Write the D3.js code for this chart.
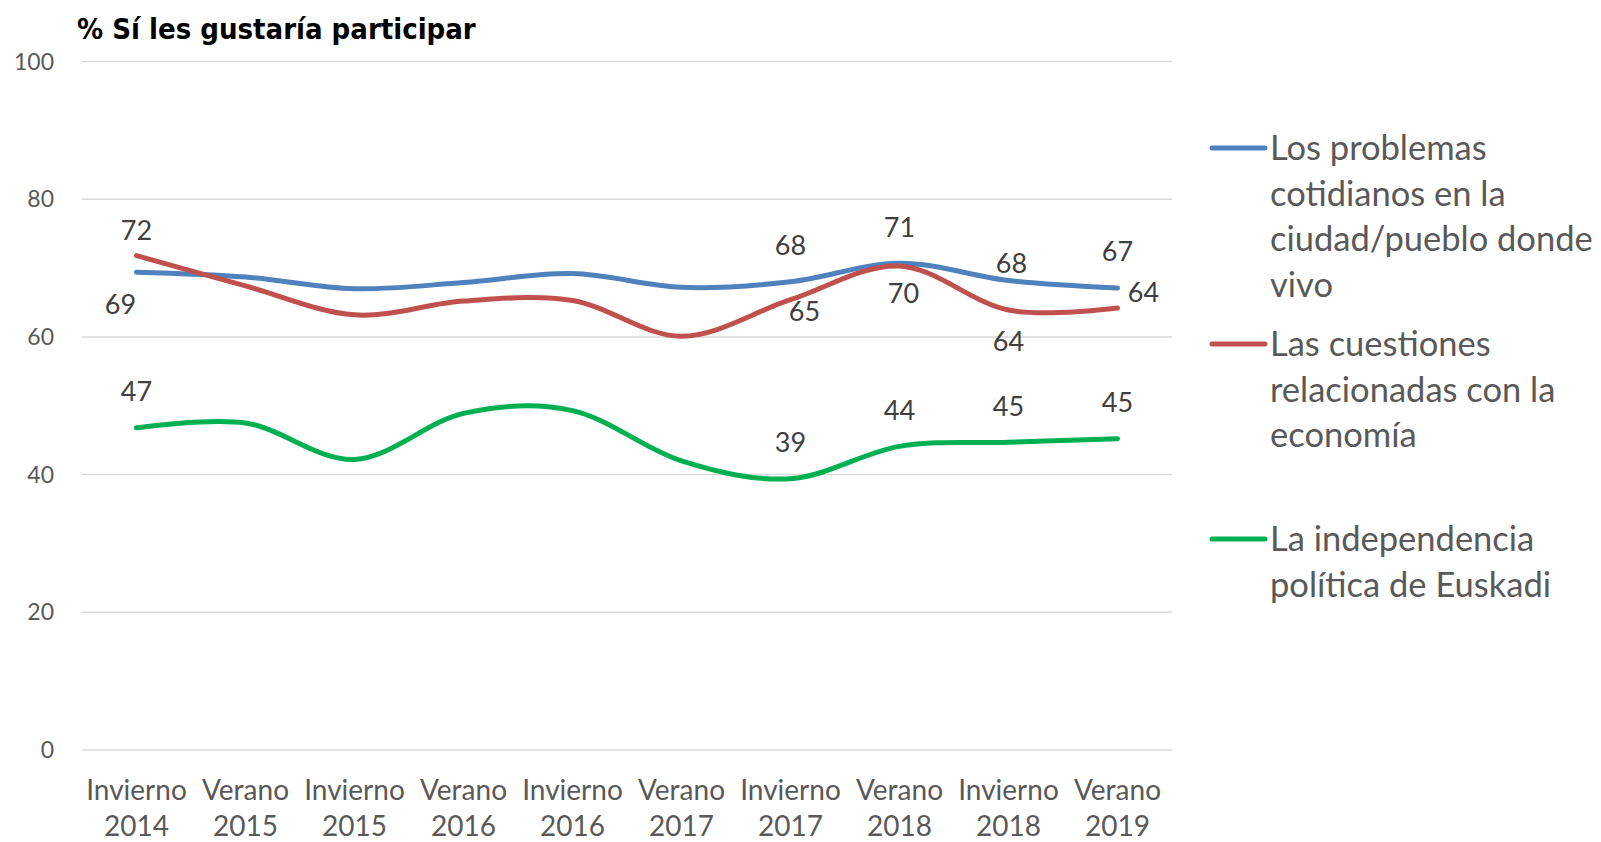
<!DOCTYPE html>
<html><head><meta charset="utf-8">
<script src="https://cdn.jsdelivr.net/npm/d3@7"></script>
<style>html,body{margin:0;padding:0;background:#fff;}svg{display:block;}</style>
</head><body>
<script>
const categories = [["Invierno","2014"],["Verano","2015"],["Invierno","2015"],["Verano","2016"],["Invierno","2016"],["Verano","2017"],["Invierno","2017"],["Verano","2018"],["Invierno","2018"],["Verano","2019"]];
const yTicks = [0,20,40,60,80,100];
const seriesNames = [
  ["Los problemas","cotidianos en la","ciudad/pueblo donde","vivo"],
  ["Las cuestiones","relacionadas con la","economía"],
  ["La independencia","política de Euskadi"]
];
const problemas   = [69.4, 68.7, 67.0, 67.9, 69.2, 67.2, 68.0, 70.7, 68.2, 67.1];
const economia    = [71.8, 67.4, 63.2, 65.2, 65.3, 60.1, 65.4, 70.3, 63.9, 64.2];
const independencia = [46.8, 47.5, 42.2, 48.9, 49.3, 42.0, 39.4, 44.1, 44.7, 45.2];
// which points carry a data label, and where
const problemasLabels = ["below",null,null,null,null,null,"above","above","above","above"];
const economiaLabels  = ["above",null,null,null,null,null,"below","below","below","right"];
const independenciaLabels = ["above",null,null,null,null,null,"above","above","above","above"];

const colors = ["#4F81BD","#C0504D","#00B050"];
const W = 1601, H = 842;
const svg = d3.select("body").append("svg").attr("width",W).attr("height",H);

const x = d3.scaleBand().domain(d3.range(categories.length)).range([82,1172]);
const y = d3.scaleLinear().domain([0,100]).range([750,61.5]);
const cx = i => x(i) + x.bandwidth()/2;

// gridlines
svg.append("g").selectAll("line").data(yTicks).join("line")
  .attr("x1",82).attr("x2",1172).attr("y1",d=>y(d)).attr("y2",d=>y(d))
  .attr("stroke","#D9D9D9").attr("stroke-width",1.5);

// y axis labels
svg.append("g").selectAll("text").data(yTicks).join("text")
  .attr("x",54).attr("y",d=>y(d)).attr("dy","0.35em").attr("text-anchor","end")
  .attr("font-family","Lato, 'Open Sans', sans-serif").attr("font-size",23).attr("fill","#595959")
  .text(d=>d);

// x axis labels
const xl = svg.append("g").selectAll("text").data(categories).join("text")
  .attr("x",(d,i)=>cx(i)).attr("y",790).attr("text-anchor","middle")
  .attr("font-family","Lato, 'Open Sans', sans-serif").attr("font-size",28).attr("fill","#595959");
xl.append("tspan").attr("x",(d,i)=>cx(i)).attr("dy","0.35em").text(d=>d[0]);
xl.append("tspan").attr("x",(d,i)=>cx(i)).attr("dy",36).text(d=>d[1]);

// title
svg.append("text").attr("x",77).attr("y",39)
  .attr("font-family","'DejaVu Sans Condensed','DejaVu Sans',sans-serif").attr("font-weight","bold")
  .attr("font-stretch","condensed")
  .attr("font-size",29).attr("fill","#000").text("% Sí les gustaría participar");

// lines
const allSeries = [problemas, economia, independencia];
const allLabels = [problemasLabels, economiaLabels, independenciaLabels];
const line = d3.line().x((d,i)=>cx(i)).y(d=>y(d)).curve(d3.curveCardinal.tension(0));
allSeries.forEach((s,k)=>{
  svg.append("path").datum(s).attr("d",line).attr("fill","none")
    .attr("stroke",colors[k]).attr("stroke-width",5).attr("stroke-linecap","round").attr("stroke-linejoin","round");
});

// data labels
const offsets = {above:[0,-36], below:[0,32], right:[26,-15]};
const nudges = {"1-0":[0,-25],"1-6":[14,12],"1-7":[4,28],"0-8":[3,-17],"0-0":[-16,32]};
allSeries.forEach((s,k)=>{
  s.forEach((v,i)=>{
    const pos = allLabels[k][i];
    if(!pos) return;
    const o = nudges[k+"-"+i] || offsets[pos];
    svg.append("text").attr("x",cx(i)+o[0]).attr("y",y(v)+o[1]).attr("dy","0.35em")
      .attr("text-anchor","middle").attr("font-family","Lato, 'Open Sans', sans-serif")
      .attr("font-size",27).attr("fill","#404040").text(Math.round(v));
  });
});

// legend
const legendY = [148, 344, 539];
const lineH = 45.5;
seriesNames.forEach((lines,k)=>{
  const g = svg.append("g");
  g.append("line").attr("x1",1212).attr("x2",1265).attr("y1",legendY[k]).attr("y2",legendY[k])
    .attr("stroke",colors[k]).attr("stroke-width",5).attr("stroke-linecap","round");
  const t = g.append("text").attr("font-family","Lato, 'Open Sans', sans-serif").attr("font-size",34.5).attr("fill","#595959");
  lines.forEach((ln,j)=>{
    t.append("tspan").attr("x",1270).attr("y",legendY[k]+j*lineH).attr("dy","0.35em").text(ln);
  });
});
</script>
</body></html>
